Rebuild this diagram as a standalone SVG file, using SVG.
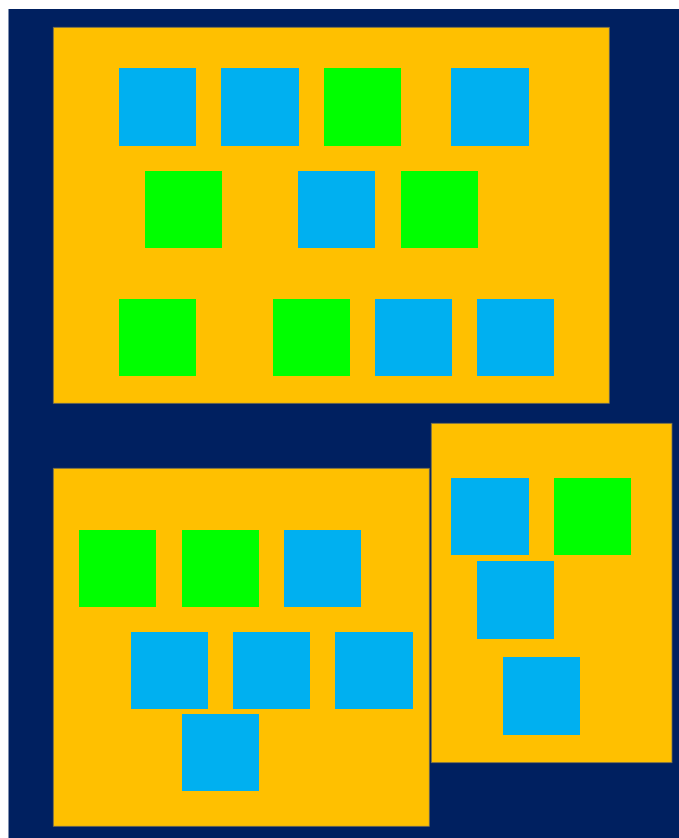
<svg xmlns="http://www.w3.org/2000/svg" width="679" height="838" viewBox="0 0 679 838">
<style>
.bg{fill:#002060}
.panel{fill:#FFC000;stroke:#6e6a55;stroke-width:0.8}
.b{fill:#00B0F0}
.g{fill:#00FF00}
</style>
<rect class="bg" x="8.5" y="9" width="671" height="830"/>
<g id="panel-top">
<rect class="panel" x="53.3" y="27.3" width="556" height="376"/>
<rect id="t1" class="b" x="119" y="68" width="77" height="78"/>
<rect id="t2" class="b" x="221" y="68" width="78" height="78"/>
<rect id="t3" class="g" x="324" y="68" width="77" height="78"/>
<rect id="t4" class="b" x="451" y="68" width="78" height="78"/>
<rect id="t5" class="g" x="145" y="171" width="77" height="77"/>
<rect id="t6" class="b" x="298" y="171" width="77" height="77"/>
<rect id="t7" class="g" x="401" y="171" width="77" height="77"/>
<rect id="t8" class="g" x="119" y="299" width="77" height="77"/>
<rect id="t9" class="g" x="273" y="299" width="77" height="77"/>
<rect id="t10" class="b" x="375" y="299" width="77" height="77"/>
<rect id="t11" class="b" x="477" y="299" width="77" height="77"/>
</g>
<g id="panel-bottom-left">
<rect class="panel" x="53.3" y="468.3" width="376" height="358"/>
<rect id="l1" class="g" x="79" y="530" width="77" height="77"/>
<rect id="l2" class="g" x="182" y="530" width="77" height="77"/>
<rect id="l3" class="b" x="284" y="530" width="77" height="77"/>
<rect id="l4" class="b" x="131" y="632" width="77" height="77"/>
<rect id="l5" class="b" x="233" y="632" width="77" height="77"/>
<rect id="l6" class="b" x="335" y="632" width="78" height="77"/>
<rect id="l7" class="b" x="182" y="714" width="77" height="77"/>
</g>
<g id="panel-right">
<rect class="panel" x="431.3" y="423.3" width="240.7" height="339.4"/>
<rect id="r1" class="b" x="451" y="478" width="78" height="77"/>
<rect id="r2" class="g" x="554" y="478" width="77" height="77"/>
<rect id="r3" class="b" x="477" y="561" width="77" height="78"/>
<rect id="r4" class="b" x="503" y="657" width="77" height="78"/>
</g>
<g id="connectors"/>
</svg>
